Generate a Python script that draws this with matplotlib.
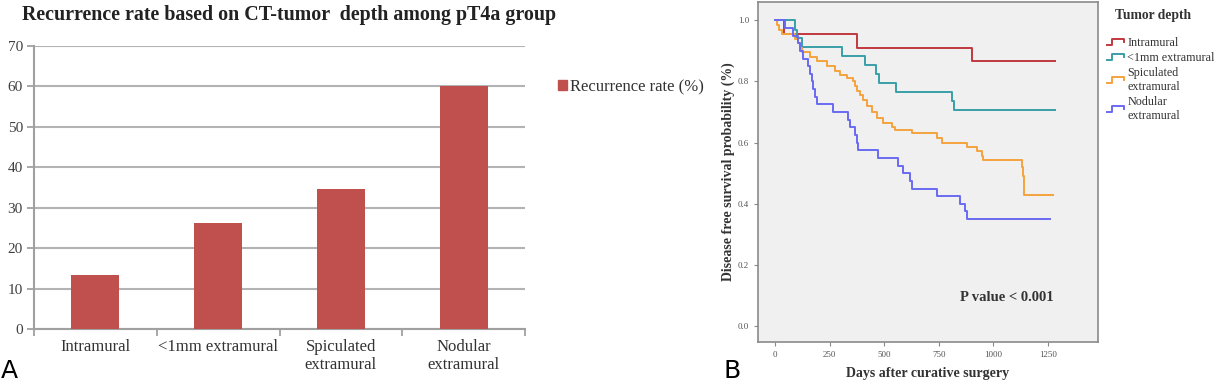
import matplotlib.pyplot as plt
from matplotlib.patches import Patch
from matplotlib.lines import Line2D
from matplotlib.legend_handler import HandlerBase
import numpy as np

plt.rcParams["font.family"] = ["Liberation Serif", "DejaVu Serif"]

# Panel A: recurrence rate
CATS = ["Intramural", "<1mm extramural", "Spiculated\nextramural", "Nodular\nextramural"]
RATES = [13.4, 26.2, 34.5, 60.0]
BAR_COLOR = "#c0504d"

# Panel B: Kaplan-Meier steps (day, survival), last entry = end of follow-up
INTRA_DAYS = [0, 40, 374, 903, 1280]
INTRA_SURV = [1.0, 0.955, 0.91, 0.866, 0.866]

MM1_DAYS = [0, 90, 100, 125, 305, 412, 462, 478, 554, 810, 818, 1283]
MM1_SURV = [1.0, 0.97, 0.941, 0.912, 0.882, 0.853, 0.824, 0.794, 0.765, 0.735, 0.706, 0.706]

SPIC_DAYS = [0, 10, 20, 31, 92, 105, 115, 122, 160, 191, 237, 275, 298, 328, 359, 366,
             374, 389, 404, 420, 443, 466, 496, 534, 549, 626, 740, 763, 878, 923, 946,
             954, 1129, 1134, 1140, 1274]
SPIC_SURV = [1.0, 0.985, 0.97, 0.955, 0.94, 0.925, 0.91, 0.895, 0.88, 0.866, 0.85, 0.835,
             0.82, 0.81, 0.80, 0.785, 0.77, 0.755, 0.74, 0.72, 0.70, 0.68, 0.665, 0.65,
             0.64, 0.63, 0.615, 0.60, 0.587, 0.572, 0.557, 0.543, 0.52, 0.49, 0.43, 0.43]

NOD_DAYS = [0, 46, 84, 105, 114, 130, 153, 160, 168, 175, 183, 194, 267, 336, 343, 366,
            374, 382, 473, 565, 588, 620, 626, 740, 847, 870, 878, 1259]
NOD_SURV = [1.0, 0.975, 0.95, 0.925, 0.90, 0.875, 0.85, 0.825, 0.80, 0.775, 0.75, 0.725,
            0.70, 0.675, 0.65, 0.625, 0.60, 0.575, 0.55, 0.525, 0.50, 0.475, 0.45, 0.425,
            0.40, 0.375, 0.35, 0.35]

GROUPS = ["Intramural", "<1mm extramural", "Spiculated\nextramural", "Nodular\nextramural"]
COLORS = ["#c0393f", "#3a9ea6", "#f5a23c", "#6a6af2"]


class StepHandler(HandlerBase):
    '''little step-shaped line for the KM legend'''
    def create_artists(self, legend, orig_handle, xdescent, ydescent,
                       width, height, fontsize, trans):
        x0, y0 = -xdescent, -ydescent
        xs = np.array([0, 0.3, 0.3, 0.95, 0.95]) * width + x0
        ys = np.array([0.1, 0.1, 0.9, 0.9, 0.45]) * height + y0
        ln = Line2D(xs, ys, color=orig_handle.get_color(), lw=1.4, transform=trans)
        return [ln]


W, H = 1221, 384
fig = plt.figure(figsize=(W / 100, H / 100), dpi=100)

# ---- Panel A ----
axA = fig.add_axes([34 / W, 1 - 329 / H, 491 / W, 283.3 / H])
x = np.arange(len(CATS))
axA.bar(x, RATES, width=0.39, color=BAR_COLOR, zorder=3)
axA.set_xlim(-0.5, len(CATS) - 0.5)
axA.set_ylim(0, 70)
axA.set_yticks(range(0, 71, 10))
axA.yaxis.grid(True, color="#b3b3b3", lw=1.5, zorder=0)
axA.set_xticks(np.arange(-0.5, len(CATS), 1.0))
axA.set_xticklabels([])
axA.set_xticks(x, minor=True)
axA.set_xticklabels(CATS, minor=True, fontsize=12, color="#333333", linespacing=1.15)
axA.tick_params(axis="x", which="minor", length=0, pad=7)
axA.tick_params(axis="x", which="major", length=5, width=1.3, color="#a0a0a0")
axA.tick_params(axis="y", length=5, width=1.3, color="#a0a0a0", labelsize=11,
                labelcolor="#404040", pad=3)
for s in ["top", "right"]:
    axA.spines[s].set_visible(False)
for s in ["left", "bottom"]:
    axA.spines[s].set_color("#a0a0a0")
    axA.spines[s].set_linewidth(1.5)
fig.text(22 / W, 1 - 15 / H, "Recurrence rate based on CT-tumor  depth among pT4a group",
         fontsize=14.4, fontweight="bold", va="center", ha="left", color="#222222")
fig.legend(handles=[Patch(color=BAR_COLOR, label="Recurrence rate (%)")],
           loc="center left", bbox_to_anchor=(543 / W, 1 - 87 / H), frameon=False,
           fontsize=12, handlelength=0.55, handleheight=0.55, handletextpad=0.15,
           labelcolor="#333333")
fig.text(1 / W, 1 - 383 / H, "A", fontsize=18, family="DejaVu Sans", va="bottom", ha="left")

# ---- Panel B ----
axB = fig.add_axes([758 / W, 1 - 342 / H, 340 / W, 340 / H])
axB.set_facecolor("#f0f0f0")
series = [(INTRA_DAYS, INTRA_SURV), (MM1_DAYS, MM1_SURV),
          (SPIC_DAYS, SPIC_SURV), (NOD_DAYS, NOD_SURV)]
for (d, s), c, g in zip(series, COLORS, GROUPS):
    axB.step(d, s, where="post", color=c, lw=1.4, label=g)
axB.set_xlim(-78, 1479)
axB.set_ylim(-0.052, 1.06)
axB.set_xticks([0, 250, 500, 750, 1000, 1250])
axB.set_yticks([0.0, 0.2, 0.4, 0.6, 0.8, 1.0])
axB.set_yticklabels(["0.0", "0.2", "0.4", "0.6", "0.8", "1.0"])
axB.tick_params(labelsize=6.5, labelcolor="#555555", length=3, color="#888888")
for s in axB.spines.values():
    s.set_color("#8a8a8a")
    s.set_linewidth(1.2)
axB.set_xlabel("Days after curative surgery", fontsize=10, fontweight="bold",
               color="#333333", labelpad=6)
axB.set_ylabel("Disease free survival probability (%)", fontsize=10, fontweight="bold",
               color="#333333", labelpad=2)
axB.text(1278, 0.095, "P value < 0.001", fontsize=10.5, fontweight="bold",
         ha="right", va="center", color="#333333")
fig.text(1153 / W, 1 - 16 / H, "Tumor depth", fontsize=9.8, fontweight="bold",
         ha="center", va="center", color="#333333")
leg_handles = [Line2D([], [], color=c) for c in COLORS]
fig.legend(handles=leg_handles, labels=GROUPS,
           handler_map={Line2D: StepHandler()},
           loc="upper left", bbox_to_anchor=(1096 / W, 1 - 26 / H), frameon=False,
           fontsize=8.7, handlelength=1.5, handleheight=0.6, handletextpad=0.2,
           labelspacing=0.25, labelcolor="#333333")
fig.text(723 / W, 1 - 383 / H, "B", fontsize=18, family="DejaVu Sans", va="bottom", ha="left")

fig.savefig("out.png", dpi=100)
